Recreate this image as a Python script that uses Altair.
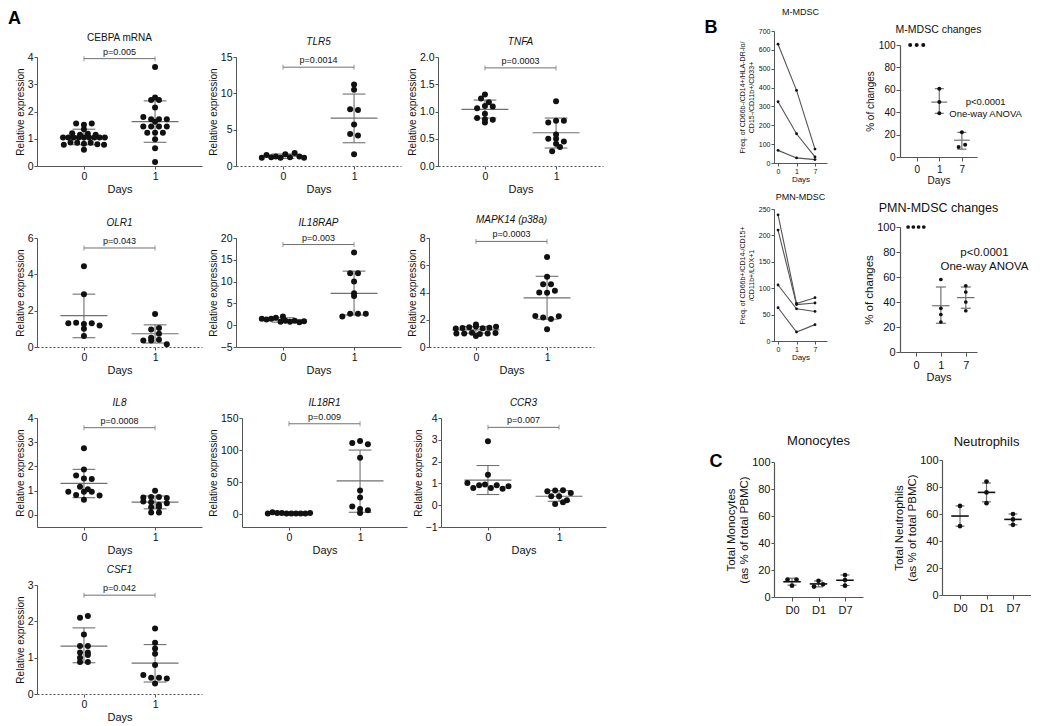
import json
import altair as alt
import pandas as pd

FONT = "Liberation Sans"
INK = "#111111"
BAR = "#707070"
AXC = "#555555"

panel_letters = ["A", "B", "C"]

# ================= Panel A: relative expression, day 0 vs day 1 =================
days_a = [0, 1]

cebpa_d0 = [1.56, 1.51, 1.56, 1.35, 1.20, 1.15, 1.18, 1.15,
            1.05, 1.05, 1.05, 1.05, 1.05, 1.05, 1.05, 1.05, 1.05,
            0.78, 0.86, 0.85, 0.82, 0.85, 0.80, 0.78, 0.60]
cebpa_d1 = [3.63, 2.51, 2.42, 2.42, 2.15, 1.80, 1.72, 1.72, 1.72, 1.62,
            1.45, 1.45, 1.45, 1.45, 1.22, 1.22, 1.22, 0.98, 0.65, 0.15]
cebpa_mean, cebpa_lo, cebpa_hi = [1.07, 1.63], [0.78, 0.87], [1.35, 2.39]

tlr5_d0 = [1.15, 1.5, 1.2, 1.3, 1.15, 1.6, 1.2, 1.8, 1.3, 1.15]
tlr5_d1 = [11.2, 10.5, 7.8, 7.7, 5.7, 4.4, 4.2, 1.6]
tlr5_mean, tlr5_lo, tlr5_hi = [1.35, 6.6], [1.05, 3.2], [1.65, 9.9]

tnfa_d0 = [1.31, 1.24, 1.17, 1.06, 1.10, 1.09, 0.96, 0.88, 0.86, 0.85, 0.80]
tnfa_d1 = [1.19, 0.80, 0.83, 0.83, 0.50, 0.50, 0.58, 0.27, 0.41, 0.45, 0.35]
tnfa_mean, tnfa_lo, tnfa_hi = [1.04, 0.61], [0.88, 0.33], [1.21, 0.88]

olr1_d0 = [4.45, 2.9, 1.31, 1.34, 1.27, 1.31, 1.18, 1.0, 0.6]
olr1_d1 = [1.82, 0.96, 1.04, 0.51, 0.36, 0.36, 0.73, 0.40, 0.15]
olr1_mean, olr1_lo, olr1_hi = [1.73, 0.73], [0.51, 0.22], [2.91, 1.22]

il18rap_d0 = [2.0, 1.5, 1.3, 1.5, 1.7, 0.8, 1.0, 0.8, 1.0, 0.7, 0.9]
il18rap_d1 = [16.7, 11.9, 11.9, 10.0, 7.3, 6.7, 2.0, 2.6, 2.6, 2.6]
il18rap_mean, il18rap_lo, il18rap_hi = [1.2, 7.3], [0.7, 2.35], [1.7, 12.4]

mapk14_d0 = [1.65, 1.35, 1.40, 1.45, 1.50, 1.38, 1.42, 1.48,
             1.00, 1.00, 1.05, 0.95, 1.00, 1.02, 0.80]
mapk14_d1 = [6.6, 5.15, 4.6, 4.6, 4.0, 3.98, 4.12, 2.27, 2.16, 2.06, 2.25, 1.3]
mapk14_mean, mapk14_lo, mapk14_hi = [1.26, 3.61], [1.02, 2.04], [1.50, 5.19]

il8_d0 = [2.75, 1.87, 1.63, 1.5, 1.48, 1.16, 1.06, 0.96, 0.82, 0.96, 0.96, 0.80, 0.62]
il8_d1 = [1.0, 0.72, 0.74, 0.74, 0.70, 0.55, 0.52, 0.42, 0.48, 0.32, 0.32, 0.10, 0.10]
il8_mean, il8_lo, il8_hi = [1.30, 0.53], [0.71, 0.25], [1.88, 0.78]

il18r1_d0 = [1, 3, 2, 2, 1, 1, 1, 1, 1, 2]
il18r1_d1 = [111, 114, 109, 88, 37, 26, 12, 8, 6, 2]
il18r1_mean, il18r1_lo, il18r1_hi = [1.5, 52], [1.0, 3], [2.2, 100]

ccr3_d0 = [2.93, 1.4, 1.02, 0.79, 0.92, 0.95, 0.79, 0.92, 0.76, 0.87]
ccr3_d1 = [0.64, 0.67, 0.69, 0.56, 0.41, 0.41, 0.23, 0.06, 0.14]
ccr3_mean, ccr3_lo, ccr3_hi = [1.15, 0.41], [0.49, 0.18], [1.82, 0.67]

csf1_d0 = [2.1, 2.15, 1.64, 1.32, 1.32, 1.14, 1.14, 1.0, 1.07, 0.88, 0.88]
csf1_d1 = [1.8, 1.41, 1.25, 1.11, 0.8, 0.52, 0.45, 0.45, 0.43, 0.29]
csf1_mean, csf1_lo, csf1_hi = [1.32, 0.85], [0.86, 0.33], [1.82, 1.36]

# ================= Panel B =================
b_days = ["0", "1", "7"]
mm_subject_1 = [630, 385, 74]
mm_subject_2 = [325, 155, 32]
mm_subject_3 = [67, 27, 18]
pmn_subject_1 = [239, 71, 82]
pmn_subject_2 = [210, 69, 72]
pmn_subject_3 = [106, 61, 56]
pmn_subject_4 = [63, 17, 31]

mm_chg_d0 = [100, 100, 100]
mm_chg_d1 = [61, 49, 39]
mm_chg_d7 = [22, 9, 11]
mm_chg_mean, mm_chg_lo, mm_chg_hi = [49, 15], [39, 7], [61, 22]

pmn_chg_d0 = [100, 100, 100, 100]
pmn_chg_d1 = [58, 35, 30, 24]
pmn_chg_d7 = [53, 48, 40, 33]
pmn_chg_mean, pmn_chg_lo, pmn_chg_hi = [37, 43.5], [23, 35], [52, 52]

anova_text = ["p<0.0001", "One-way ANOVA"]

# ================= Panel C =================
c_days = ["D0", "D1", "D7"]
mono_d0 = [12.8, 12.8, 8.4]
mono_d1 = [12.0, 7.7, 9.4]
mono_d7 = [16.3, 12.6, 8.4]
mono_mean, mono_lo, mono_hi = [11.3, 9.7, 12.4], [8.8, 7.5, 8.5], [13.9, 11.9, 16.3]
neut_d0 = [66, 51]
neut_d1 = [84, 76, 68]
neut_d7 = [60, 56, 52]
neut_mean, neut_lo, neut_hi = [58.5, 76, 56], [51, 69, 52], [66, 83, 60]


def letter_layer(letter, px, py):
    return alt.Chart(pd.DataFrame({"t": [letter]})).mark_text(
        align="center", baseline="middle", fontSize=18, fontWeight="bold", font=FONT,
        color="black").encode(text="t:N", x=alt.value(px), y=alt.value(py))


def jitter(chart, xfield, step, spread, cap):
    return chart.transform_calculate(
        row=f"round(datum.value / {step})"
    ).transform_window(
        rank="row_number()", groupby=[xfield, "row"]
    ).transform_joinaggregate(
        n="count()", groupby=[xfield, "row"]
    ).transform_calculate(
        xj=f"datum.{xfield} + (datum.rank - (datum.n + 1) / 2) * min({spread}, {cap} / datum.n)"
    )


def gene_panel(title, italic, d0, d1, mean, lo, hi, ydom, yticks, yfmt, ptxt, py, dashed, step):
    pts = pd.DataFrame({"day": [days_a[0]] * len(d0) + [days_a[1]] * len(d1), "value": d0 + d1})
    st = pd.DataFrame({"day": days_a, "mean": mean, "lo": lo, "hi": hi})
    br = pd.DataFrame({"x0": [days_a[0]], "x1": [days_a[1]], "y": [py], "label": [ptxt]})
    xs = alt.Scale(domain=[-0.66, 1.66], nice=False, zero=False)
    ys = alt.Scale(domain=ydom, nice=False, zero=False)
    xkw = dict(values=days_a, format="d", title="Days", grid=False, domainColor=AXC,
               tickColor=AXC, tickSize=3, labelFontSize=10.5, titleFontSize=11,
               labelColor=INK, titleColor=INK, labelFont=FONT, titleFont=FONT,
               titleFontWeight="normal", labelPadding=2, titlePadding=2)
    if dashed:
        xkw["domainDash"] = [2, 2]
    xa = alt.Axis(**xkw)
    ya = alt.Axis(values=yticks, format=yfmt, title="Relative expression", grid=False,
                  domainColor=AXC, tickColor=AXC, tickSize=3, labelFontSize=10.5,
                  titleFontSize=10, labelColor=INK, titleColor=INK, labelFont=FONT,
                  titleFont=FONT, titleFontWeight="normal", labelPadding=1, titlePadding=2)

    def enc(xf, yf):
        return dict(x=alt.X(xf, type="quantitative", scale=xs, axis=xa),
                    y=alt.Y(yf, type="quantitative", scale=ys, axis=ya))

    vert = alt.Chart(st).mark_rule(color=BAR, strokeWidth=1.1).encode(**enc("day", "lo"), y2=alt.Y2("hi"))
    caps = alt.Chart(st).transform_fold(["lo", "hi"], as_=["k", "v"]).transform_calculate(
        xa="datum.day - 0.16", xb="datum.day + 0.16"
    ).mark_rule(color=BAR, strokeWidth=1.1).encode(**enc("xa", "v"), x2=alt.X2("xb"))
    mline = alt.Chart(st).transform_calculate(
        xa="datum.day - 0.33", xb="datum.day + 0.33"
    ).mark_rule(color=BAR, strokeWidth=1.2).encode(**enc("xa", "mean"), x2=alt.X2("xb"))
    dots = jitter(alt.Chart(pts), "day", step, 0.11, 0.66).mark_circle(
        size=36, color=INK, opacity=1).encode(**enc("xj", "value"))
    brk = alt.Chart(br).mark_rule(color=BAR, strokeWidth=1).encode(**enc("x0", "y"), x2=alt.X2("x1"))
    ends = alt.Chart(br).transform_fold(["x0", "x1"], as_=["k", "xe"]).mark_tick(
        orient="vertical", size=5, thickness=1, color=BAR).encode(**enc("xe", "y"))
    txt = alt.Chart(br).transform_calculate(xm="(datum.x0 + datum.x1) / 2").mark_text(
        dy=-7, fontSize=9, font=FONT, color=INK).encode(**enc("xm", "y"), text="label:N")
    return alt.layer(vert, caps, mline, dots, brk, ends, txt).properties(
        width=165, height=109,
        title=alt.TitleParams(title, fontSize=10, fontStyle="italic" if italic else "normal",
                              fontWeight="normal", font=FONT, color=INK, offset=5))


def line_panel(title, subjects, ydom, yticks, ytitle, toff, letter=None):
    rows = []
    for s, vals in enumerate(subjects):
        for i, v in enumerate(vals):
            rows.append({"subject": s, "g": i, "value": v})
    df = pd.DataFrame(rows)
    xs = alt.Scale(domain=[-0.22, 2.65], nice=False, zero=False)
    ys = alt.Scale(domain=ydom, nice=False, zero=False)
    xa = alt.Axis(values=list(range(len(b_days))), labelExpr=f"{json.dumps(b_days)}[datum.value]",
                  title="Days", grid=False, domainColor=AXC, tickColor=AXC, tickSize=3,
                  labelFontSize=7, titleFontSize=8, labelColor=INK, titleColor=INK,
                  labelFont=FONT, titleFont=FONT, titleFontWeight="normal", labelPadding=1,
                  titlePadding=1)
    ya = alt.Axis(values=yticks, format="d", title=ytitle, grid=False, domainColor=AXC,
                  tickColor=AXC, tickSize=3, labelFontSize=7, titleFontSize=7,
                  labelColor=INK, titleColor=INK, labelFont=FONT, titleFont=FONT,
                  titleFontWeight="normal", labelPadding=1, titlePadding=4)
    enc = dict(x=alt.X("g", type="quantitative", scale=xs, axis=xa),
               y=alt.Y("value", type="quantitative", scale=ys, axis=ya))
    lines = alt.Chart(df).mark_line(color="#555555", strokeWidth=1.1).encode(
        **enc, detail="subject:N")
    pts = alt.Chart(df).mark_circle(size=8, color=INK, opacity=1).encode(**enc)
    layers = [lines, pts]
    if letter is not None:
        layers.append(letter_layer(*letter))
    return alt.layer(*layers).properties(
        width=53, height=132,
        title=alt.TitleParams(title, fontSize=9, fontWeight="normal",
                              font=FONT, color=INK, offset=toff))


def group_panel(cats, groups, s_idx, s_mean, s_lo, s_hi, ydom, yticks, ytitle, xtitle,
                title, width, height, xdom, sty, annot=None, letter=None):
    idx = list(range(len(cats)))
    pts = pd.DataFrame({"g": [i for i, vals in zip(idx, groups) for _ in vals],
                        "value": [v for vals in groups for v in vals]})
    st = pd.DataFrame({"g": s_idx, "mean": s_mean, "lo": s_lo, "hi": s_hi})
    xpad = sty.get("xpad", 0)
    ypad = sty.get("ypad", 0)
    total_w = width + xpad
    total_h = height + ypad
    if xpad:
        xs = alt.Scale(domain=xdom, nice=False, zero=False, range=[xpad, total_w])
    else:
        xs = alt.Scale(domain=xdom, nice=False, zero=False)
    if ypad:
        ys = alt.Scale(domain=ydom, nice=False, zero=False, range=[total_h, ypad])
    else:
        ys = alt.Scale(domain=ydom, nice=False, zero=False)
    xa = alt.Axis(values=idx, labelExpr=f"{json.dumps(cats)}[datum.value]", title=xtitle,
                  grid=False, domainColor=AXC, tickColor=AXC, tickSize=4, domainWidth=1.2,
                  labelFontSize=sty["lab"], titleFontSize=sty["lab"], labelColor=INK,
                  titleColor=INK, labelFont=FONT, titleFont=FONT, titleFontWeight="normal",
                  labelPadding=3, titlePadding=1)
    ykw = dict(values=yticks, format="d", title=ytitle, grid=False, domainColor=AXC,
               tickColor=AXC, tickSize=sty.get("yts", 4), domainWidth=1.2,
               labelFontSize=sty["lab"], titleFontSize=sty["ytit"], labelColor=INK,
               titleColor=INK, labelFont=FONT, titleFont=FONT, titleFontWeight="normal",
               labelPadding=sty.get("ylp", 2), titlePadding=sty.get("ytp", 4))
    if xpad:
        ykw["offset"] = -xpad
    ya = alt.Axis(**ykw)

    def enc(xf, yf):
        return dict(x=alt.X(xf, type="quantitative", scale=xs, axis=xa),
                    y=alt.Y(yf, type="quantitative", scale=ys, axis=ya))

    vert = alt.Chart(st).mark_rule(color=BAR, strokeWidth=1.2).encode(**enc("g", "lo"), y2=alt.Y2("hi"))
    caps = alt.Chart(st).transform_fold(["lo", "hi"], as_=["k", "v"]).transform_calculate(
        xa=f"datum.g - {sty['cap']}", xb=f"datum.g + {sty['cap']}"
    ).mark_rule(color=BAR, strokeWidth=1.2).encode(**enc("xa", "v"), x2=alt.X2("xb"))
    mline = alt.Chart(st).transform_calculate(
        xa=f"datum.g - {sty['half']}", xb=f"datum.g + {sty['half']}"
    ).mark_rule(color=sty["mcol"], strokeWidth=sty["mw"]).encode(**enc("xa", "mean"), x2=alt.X2("xb"))
    dots = jitter(alt.Chart(pts), "g", sty["step"], sty["spread"], 10).mark_circle(
        size=sty["dot"], color=INK, opacity=1).encode(**enc("xj", "value"))
    layers = [vert, caps, mline, dots]
    if annot is not None:
        adf = pd.DataFrame({"x": annot[0], "y": annot[1], "label": annot[2]})
        layers.append(alt.Chart(adf).mark_text(fontSize=sty["ann"], font=FONT, color=INK).encode(
            **enc("x", "y"), text="label:N"))
    if letter is not None:
        layers.append(letter_layer(*letter))
    tkw = dict(fontSize=sty["tit"], fontWeight="normal", font=FONT, color=INK, offset=sty["toff"])
    if "tdy" in sty:
        tkw["dy"] = sty["tdy"]
    if xpad:
        tkw["dx"] = xpad / 2
    return alt.layer(*layers).properties(width=total_w, height=total_h,
                                         title=alt.TitleParams(title, **tkw))


genes = [
    ("CEBPA mRNA", False, cebpa_d0, cebpa_d1, cebpa_mean, cebpa_lo, cebpa_hi, [0, 4], [0, 1, 2, 3, 4], "d", "p=0.005", 3.94, False, 0.2),
    ("TLR5", True, tlr5_d0, tlr5_d1, tlr5_mean, tlr5_lo, tlr5_hi, [0, 15], [0, 5, 10, 15], "d", "p=0.0014", 13.6, True, 0.75),
    ("TNFA", True, tnfa_d0, tnfa_d1, tnfa_mean, tnfa_lo, tnfa_hi, [0, 2], [0, 0.5, 1, 1.5, 2], ".1f", "p=0.0003", 1.8, True, 0.1),
    ("OLR1", True, olr1_d0, olr1_d1, olr1_mean, olr1_lo, olr1_hi, [0, 6], [0, 2, 4, 6], "d", "p=0.043", 5.45, True, 0.3),
    ("IL18RAP", True, il18rap_d0, il18rap_d1, il18rap_mean, il18rap_lo, il18rap_hi, [-5, 20], [-5, 0, 5, 10, 15, 20], "d", "p=0.003", 18.5, False, 1.25),
    ("MAPK14 (p38a)", True, mapk14_d0, mapk14_d1, mapk14_mean, mapk14_lo, mapk14_hi, [0, 8], [0, 2, 4, 6, 8], "d", "p=0.0003", 7.75, True, 0.24),
    ("IL8", True, il8_d0, il8_d1, il8_mean, il8_lo, il8_hi, [-0.5, 4], [0, 1, 2, 3, 4], "d", "p=0.0008", 3.6, False, 0.225),
    ("IL18R1", True, il18r1_d0, il18r1_d1, il18r1_mean, il18r1_lo, il18r1_hi, [-20, 150], [0, 50, 100, 150], "d", "p=0.009", 141, False, 8.5),
    ("CCR3", True, ccr3_d0, ccr3_d1, ccr3_mean, ccr3_lo, ccr3_hi, [-1, 4], [-1, 0, 1, 2, 3, 4], "d", "p=0.007", 3.57, False, 0.3),
    ("CSF1", True, csf1_d0, csf1_d1, csf1_mean, csf1_lo, csf1_hi, [0, 3], [0, 1, 2, 3], "d", "p=0.042", 2.72, True, 0.15),
]
P = [gene_panel(*g) for g in genes]

labelA = alt.Chart(pd.DataFrame({"t": [panel_letters[0]]})).mark_text(
    align="left", baseline="top", fontSize=18, fontWeight="bold", font=FONT, color="black"
).encode(text="t:N", x=alt.value(-29), y=alt.value(-21)).properties(width=165, height=1)

rowA1 = alt.hconcat(P[0], P[1], P[2], spacing=6)
rowA2 = alt.hconcat(P[3], P[4], P[5], spacing=6)
rowA3 = alt.hconcat(P[6], P[7], P[8], spacing=6)
rowA4 = alt.hconcat(P[9], spacing=6)
blockA = alt.vconcat(
    labelA,
    alt.vconcat(alt.vconcat(rowA1, rowA2, spacing=20),
                alt.vconcat(rowA3, rowA4, spacing=9), spacing=21),
    spacing=0)

# ---- B ----
mm_line = line_panel("M-MDSC", [mm_subject_1, mm_subject_2, mm_subject_3], [0, 700],
                     list(range(0, 701, 100)),
                     ["Freq. of CD66b-/CD14+/HLA-DR-lo/", "CD15-/CD11b+/CD33+"], 2,
                     letter=(panel_letters[1], -63, -3))
pmn_line = line_panel("PMN-MDSC", [pmn_subject_1, pmn_subject_2, pmn_subject_3, pmn_subject_4],
                      [0, 250], list(range(0, 251, 50)),
                      ["Freq. of CD66b+/CD14-/CD15+", "/CD11b+/LOX+1"], 3)

sty_mm = dict(lab=10, ytit=10, tit=10.5, toff=0, tdy=4, ypad=14, half=0.35, cap=0.2,
              mcol=BAR, mw=1.2, step=5, spread=0.29, dot=16, ann=9.5, ylp=1, ytp=3)
sty_pmn = dict(lab=11, ytit=11.5, tit=12.5, toff=7, half=0.35, cap=0.2, mcol=BAR, mw=1.2,
               step=5, spread=0.21, dot=14, ann=11.5, ylp=1, ytp=2)
mm_chg = group_panel(b_days, [mm_chg_d0, mm_chg_d1, mm_chg_d7], [1, 2], mm_chg_mean,
                     mm_chg_lo, mm_chg_hi, [0, 100], list(range(0, 101, 20)), "% of changes",
                     "Days", "M-MDSC changes", 77, 112, [-0.74, 2.67], sty_mm,
                     annot=([3.05, 3.05], [49.5, 38.6], anova_text))
pmn_chg = group_panel(b_days, [pmn_chg_d0, pmn_chg_d1, pmn_chg_d7], [1, 2], pmn_chg_mean,
                      pmn_chg_lo, pmn_chg_hi, [0, 100], list(range(0, 101, 20)), "% of changes",
                      "Days", "PMN-MDSC changes", 77, 125, [-0.64, 2.45], sty_pmn,
                      annot=([2.75, 2.75], [79.5, 68], anova_text))

# ---- C ----
sty_mono = dict(lab=11, ytit=11.5, tit=13, toff=5, half=0.33, cap=0.17, mcol=INK, mw=1.6,
                step=3, spread=0.34, dot=22, ann=11, yts=3, ylp=1, ytp=2)
sty_neut = dict(sty_mono, xpad=42)
mono = group_panel(c_days, [mono_d0, mono_d1, mono_d7], [0, 1, 2], mono_mean, mono_lo, mono_hi,
                   [0, 100], list(range(0, 101, 20)), ["Total Monocytes", "(as % of total PBMC)"],
                   None, "Monocytes", 89, 135, [-0.68, 2.68], sty_mono,
                   letter=(panel_letters[2], -58, 0))
neut = group_panel(c_days, [neut_d0, neut_d1, neut_d7], [0, 1, 2], neut_mean, neut_lo, neut_hi,
                   [0, 100], list(range(0, 101, 20)), ["Total Neutrophils", "(as % of total PBMC)"],
                   None, "Neutrophils", 89, 135, [-0.68, 2.68], sty_neut)

colL = alt.vconcat(alt.vconcat(mm_line, pmn_line, spacing=10), mono, spacing=74)
colR = alt.vconcat(alt.vconcat(mm_chg, pmn_chg, spacing=16), neut, spacing=54)
right = alt.hconcat(colL, colR, spacing=0)

chart = alt.hconcat(blockA, right, spacing=98).properties(
    padding={"left": 0, "top": 0, "right": 0, "bottom": 0}
).configure(font=FONT).configure_view(stroke=None, strokeWidth=0)

chart.save("out.html", embed_options={"renderer": "svg", "actions": False})
